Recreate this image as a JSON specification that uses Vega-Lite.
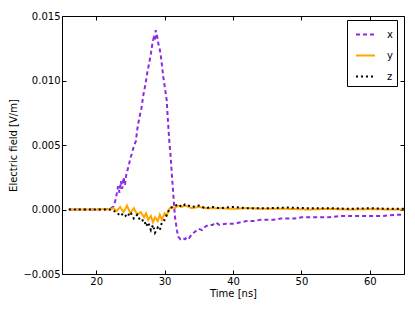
{
  "$schema": "https://vega.github.io/schema/vega-lite/v6.json",
  "autosize": {"type": "none"},
  "width": 342,
  "height": 258,
  "padding": {"left": 62, "top": 16, "right": 11, "bottom": 38},
  "config": {
    "font": "DejaVu Sans",
    "view": {"stroke": "black", "strokeWidth": 1},
    "axis": {"grid": false, "domain": false, "tickColor": "black", "labelColor": "black", "titleColor": "black", "labelFont": "DejaVu Sans", "titleFont": "DejaVu Sans", "labelFontSize": 10, "titleFontSize": 10, "titleFontWeight": "normal", "tickSize": -4, "labelPadding": 6},
    "legend": {"orient": "none", "legendX": 285, "legendY": 4, "strokeColor": "black", "fillColor": "white", "padding": 4, "rowPadding": 5, "symbolOffset": 4, "symbolType": "stroke", "symbolSize": 361, "symbolStrokeWidth": 2, "labelFontSize": 10, "labelFont": "DejaVu Sans", "labelColor": "black", "labelOffset": 11, "cornerRadius": 0}
  },
  "data": {"values": [
    {"t":16,"v":0,"s":"x"},{"t":17,"v":0,"s":"x"},{"t":18,"v":0,"s":"x"},{"t":19,"v":0,"s":"x"},{"t":20,"v":0,"s":"x"},{"t":21,"v":0,"s":"x"},{"t":22,"v":0.00005,"s":"x"},
    {"t":22.5,"v":0.0002,"s":"x"},{"t":22.8,"v":0.0007,"s":"x"},{"t":23.0,"v":0.0012,"s":"x"},{"t":23.2,"v":0.0018,"s":"x"},{"t":23.4,"v":0.0013,"s":"x"},{"t":23.6,"v":0.0022,"s":"x"},{"t":23.8,"v":0.0016,"s":"x"},{"t":24.0,"v":0.0025,"s":"x"},{"t":24.2,"v":0.0019,"s":"x"},{"t":24.4,"v":0.0027,"s":"x"},{"t":24.6,"v":0.0031,"s":"x"},{"t":24.8,"v":0.0035,"s":"x"},{"t":25.0,"v":0.0040,"s":"x"},{"t":25.2,"v":0.0043,"s":"x"},{"t":25.5,"v":0.0049,"s":"x"},{"t":25.8,"v":0.0053,"s":"x"},{"t":26.0,"v":0.0062,"s":"x"},{"t":26.3,"v":0.0071,"s":"x"},{"t":26.6,"v":0.0078,"s":"x"},{"t":26.9,"v":0.0089,"s":"x"},{"t":27.2,"v":0.0097,"s":"x"},{"t":27.5,"v":0.0107,"s":"x"},{"t":27.8,"v":0.0115,"s":"x"},{"t":28.0,"v":0.0121,"s":"x"},{"t":28.2,"v":0.0128,"s":"x"},{"t":28.4,"v":0.0133,"s":"x"},{"t":28.6,"v":0.0131,"s":"x"},{"t":28.7,"v":0.0139,"s":"x"},{"t":28.8,"v":0.0137,"s":"x"},{"t":29.0,"v":0.0132,"s":"x"},{"t":29.1,"v":0.0128,"s":"x"},{"t":29.3,"v":0.0124,"s":"x"},{"t":29.5,"v":0.0117,"s":"x"},{"t":29.8,"v":0.0103,"s":"x"},{"t":30.0,"v":0.0096,"s":"x"},{"t":30.3,"v":0.0085,"s":"x"},{"t":30.5,"v":0.0068,"s":"x"},{"t":30.7,"v":0.0052,"s":"x"},{"t":30.9,"v":0.0040,"s":"x"},{"t":31.1,"v":0.0024,"s":"x"},{"t":31.3,"v":0.0010,"s":"x"},{"t":31.5,"v":-0.0005,"s":"x"},{"t":31.8,"v":-0.0016,"s":"x"},{"t":32.0,"v":-0.0021,"s":"x"},{"t":32.3,"v":-0.0023,"s":"x"},{"t":32.6,"v":-0.0022,"s":"x"},{"t":33.0,"v":-0.0023,"s":"x"},{"t":33.3,"v":-0.0021,"s":"x"},{"t":33.6,"v":-0.0022,"s":"x"},{"t":34.0,"v":-0.0019,"s":"x"},{"t":34.5,"v":-0.0017,"s":"x"},{"t":35.0,"v":-0.0015,"s":"x"},{"t":35.5,"v":-0.0016,"s":"x"},{"t":36,"v":-0.0013,"s":"x"},{"t":36.5,"v":-0.0012,"s":"x"},{"t":37,"v":-0.0012,"s":"x"},{"t":37.5,"v":-0.0010,"s":"x"},{"t":38,"v":-0.0012,"s":"x"},{"t":39,"v":-0.0011,"s":"x"},{"t":40,"v":-0.0011,"s":"x"},{"t":41,"v":-0.0010,"s":"x"},{"t":42,"v":-0.0009,"s":"x"},{"t":43,"v":-0.0009,"s":"x"},{"t":44,"v":-0.0008,"s":"x"},{"t":45,"v":-0.0008,"s":"x"},{"t":46,"v":-0.0008,"s":"x"},{"t":47,"v":-0.0007,"s":"x"},{"t":48,"v":-0.0007,"s":"x"},{"t":49,"v":-0.0007,"s":"x"},{"t":50,"v":-0.0006,"s":"x"},{"t":52,"v":-0.0006,"s":"x"},{"t":54,"v":-0.0006,"s":"x"},{"t":56,"v":-0.0005,"s":"x"},{"t":58,"v":-0.0005,"s":"x"},{"t":60,"v":-0.0005,"s":"x"},{"t":62,"v":-0.0005,"s":"x"},{"t":64,"v":-0.0004,"s":"x"},{"t":65,"v":-0.0004,"s":"x"},

    {"t":16,"v":0,"s":"y"},{"t":18,"v":0,"s":"y"},{"t":20,"v":0,"s":"y"},{"t":21,"v":0.00003,"s":"y"},{"t":22,"v":0,"s":"y"},{"t":22.5,"v":0.0001,"s":"y"},{"t":23,"v":-0.0001,"s":"y"},{"t":23.5,"v":0.0002,"s":"y"},{"t":24,"v":-0.0002,"s":"y"},{"t":24.5,"v":0.0003,"s":"y"},{"t":25,"v":-0.0003,"s":"y"},{"t":25.5,"v":0.0001,"s":"y"},{"t":26,"v":-0.0004,"s":"y"},{"t":26.5,"v":-0.0002,"s":"y"},{"t":27,"v":-0.0006,"s":"y"},{"t":27.3,"v":-0.0003,"s":"y"},{"t":27.6,"v":-0.0008,"s":"y"},{"t":28,"v":-0.0005,"s":"y"},{"t":28.3,"v":-0.0010,"s":"y"},{"t":28.6,"v":-0.0006,"s":"y"},{"t":29,"v":-0.0009,"s":"y"},{"t":29.3,"v":-0.0004,"s":"y"},{"t":29.6,"v":-0.0008,"s":"y"},{"t":30,"v":-0.0003,"s":"y"},{"t":30.3,"v":-0.0005,"s":"y"},{"t":30.6,"v":0.0000,"s":"y"},{"t":31,"v":0.0002,"s":"y"},{"t":31.5,"v":0.0001,"s":"y"},{"t":32,"v":0.0003,"s":"y"},{"t":32.5,"v":0.0002,"s":"y"},{"t":33,"v":0.0003,"s":"y"},{"t":34,"v":0.0001,"s":"y"},{"t":35,"v":0.0002,"s":"y"},{"t":36,"v":0.0001,"s":"y"},{"t":38,"v":0.0001,"s":"y"},{"t":40,"v":0.00005,"s":"y"},{"t":42,"v":0.0001,"s":"y"},{"t":45,"v":0.00005,"s":"y"},{"t":48,"v":0.00005,"s":"y"},{"t":51,"v":0.0000,"s":"y"},{"t":54,"v":0.00005,"s":"y"},{"t":57,"v":0.0000,"s":"y"},{"t":60,"v":0.00003,"s":"y"},{"t":63,"v":0.0000,"s":"y"},{"t":65,"v":0.0000,"s":"y"},

    {"t":16,"v":0,"s":"z"},{"t":18,"v":0,"s":"z"},{"t":20,"v":0,"s":"z"},{"t":22,"v":0,"s":"z"},{"t":22.5,"v":-0.0001,"s":"z"},{"t":23,"v":-0.0002,"s":"z"},{"t":23.5,"v":-0.0005,"s":"z"},{"t":24,"v":-0.0003,"s":"z"},{"t":24.5,"v":-0.0006,"s":"z"},{"t":25,"v":-0.0002,"s":"z"},{"t":25.5,"v":-0.0007,"s":"z"},{"t":26,"v":-0.0004,"s":"z"},{"t":26.5,"v":-0.0009,"s":"z"},{"t":27,"v":-0.0008,"s":"z"},{"t":27.3,"v":-0.0013,"s":"z"},{"t":27.6,"v":-0.0010,"s":"z"},{"t":28,"v":-0.0016,"s":"z"},{"t":28.3,"v":-0.0012,"s":"z"},{"t":28.6,"v":-0.0018,"s":"z"},{"t":29,"v":-0.0014,"s":"z"},{"t":29.3,"v":-0.0016,"s":"z"},{"t":29.6,"v":-0.0010,"s":"z"},{"t":30,"v":-0.0008,"s":"z"},{"t":30.4,"v":-0.0003,"s":"z"},{"t":30.8,"v":0.0001,"s":"z"},{"t":31.2,"v":0.0002,"s":"z"},{"t":31.6,"v":0.0003,"s":"z"},{"t":32,"v":0.0004,"s":"z"},{"t":32.5,"v":0.0002,"s":"z"},{"t":33,"v":0.0004,"s":"z"},{"t":34,"v":0.0002,"s":"z"},{"t":35,"v":0.0003,"s":"z"},{"t":36,"v":0.0001,"s":"z"},{"t":37,"v":0.0002,"s":"z"},{"t":38,"v":0.0001,"s":"z"},{"t":40,"v":0.0002,"s":"z"},{"t":42,"v":0.0001,"s":"z"},{"t":45,"v":0.0001,"s":"z"},{"t":48,"v":0.00015,"s":"z"},{"t":51,"v":0.0001,"s":"z"},{"t":54,"v":0.0001,"s":"z"},{"t":57,"v":0.00005,"s":"z"},{"t":60,"v":0.0001,"s":"z"},{"t":63,"v":0.00005,"s":"z"},{"t":65,"v":0.00005,"s":"z"}
  ]},
  "layer": [
    {
      "mark": {"type": "line", "strokeWidth": 2, "clip": true},
      "encoding": {
        "x": {"field": "t", "type": "quantitative", "scale": {"domain": [15, 65], "nice": false, "zero": false}, "axis": {"title": "Time [ns]", "values": [20, 30, 40, 50, 60], "orient": "bottom", "titlePadding": 2}},
        "y": {"field": "v", "type": "quantitative", "scale": {"domain": [-0.005, 0.015], "nice": false, "zero": false}, "axis": {"title": "Electric field [V/m]", "values": [-0.005, 0, 0.005, 0.01, 0.015], "format": ".3f", "orient": "left", "titlePadding": 4}},
        "color": {"field": "s", "type": "nominal", "scale": {"domain": ["x", "y", "z"], "range": ["#8A2BE2", "#FFA500", "#000000"]}, "legend": {"title": null}},
        "strokeDash": {"field": "s", "type": "nominal", "scale": {"domain": ["x", "y", "z"], "range": [[4, 3], [1, 0], [2, 3]]}, "legend": {"title": null}},
        "order": {"field": "t", "type": "quantitative"}
      }
    },
    {
      "mark": {"type": "line", "opacity": 0},
      "encoding": {
        "x": {"field": "t", "type": "quantitative", "axis": {"orient": "top", "labels": false, "title": null, "values": [20, 30, 40, 50, 60]}},
        "y": {"field": "v", "type": "quantitative", "axis": {"orient": "right", "labels": false, "title": null, "values": [-0.005, 0, 0.005, 0.01, 0.015]}}
      }
    }
  ],
  "resolve": {"axis": {"x": "independent", "y": "independent"}}
}
